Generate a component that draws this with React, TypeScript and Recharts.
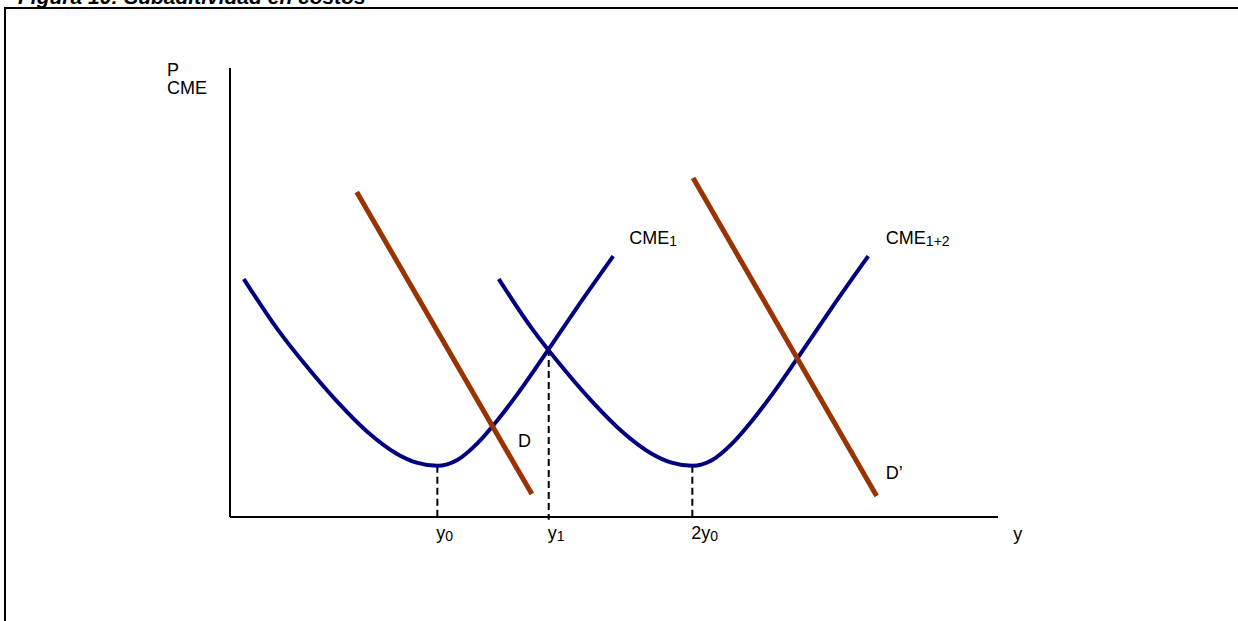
import React from 'react';
import { LineChart, Line, XAxis, YAxis, ReferenceLine, ReferenceDot } from 'recharts';

const FONT = "'Liberation Sans', Arial, sans-serif";

// average cost curve of one firm
const cme1 = [
  { x: 1.8, y: 53.0 }, { x: 6.1, y: 42.0 }, { x: 10.0, y: 33.5 }, { x: 13.9, y: 25.8 },
  { x: 17.8, y: 19.1 }, { x: 21.7, y: 14.1 }, { x: 24.3, y: 12.1 }, { x: 27.0, y: 11.4 },
  { x: 29.6, y: 12.7 }, { x: 32.2, y: 16.4 }, { x: 34.8, y: 21.5 }, { x: 37.4, y: 27.3 },
  { x: 41.5, y: 37.4 }, { x: 45.2, y: 46.7 }, { x: 49.9, y: 58.1 },
];

// average cost curve of the two plants together
const cme12 = [
  { x: 35.0, y: 53.0 }, { x: 39.3, y: 42.0 }, { x: 43.2, y: 33.5 }, { x: 47.1, y: 25.8 },
  { x: 51.0, y: 19.1 }, { x: 54.9, y: 14.1 }, { x: 57.5, y: 12.1 }, { x: 60.2, y: 11.4 },
  { x: 62.8, y: 12.7 }, { x: 65.4, y: 16.4 }, { x: 68.0, y: 21.5 }, { x: 70.6, y: 27.3 },
  { x: 74.7, y: 37.4 }, { x: 78.4, y: 46.7 }, { x: 83.1, y: 58.1 },
];

const demandD = [{ x: 16.5, y: 72.4 }, { x: 39.3, y: 5.1 }];
const demandD2 = [{ x: 60.3, y: 75.5 }, { x: 84.2, y: 4.7 }];

const tickValues = [27.0, 41.5, 60.2];
const tickLabels = [['y', '0'], ['y', '1'], ['2y', '0']];
// height of each curve where a dashed guide starts
const guideTops = [11.4, 37.4, 11.4];

const AxisTick = (props: any) => {
  const { x, y, payload } = props;
  const i = tickValues.indexOf(payload.value);
  const [main, sub] = tickLabels[i] ?? ['', ''];
  return (
    <text x={x - 1} y={y + 22} fontSize={18} fontFamily={FONT} fill="#000">
      {main}
      <tspan fontSize={14} dy={2}>{sub}</tspan>
    </text>
  );
};

const tag = (main: string, sub?: string) => (p: any) => (
  <text x={p.cx} y={p.cy} fontSize={18} fontFamily={FONT} fill="#000">
    {main}
    {sub ? <tspan fontSize={14} dy={2}>{sub}</tspan> : null}
  </text>
);

const axisTitle = (p: any) => (
  <text x={p.cx} y={p.cy} fontSize={18} fontFamily={FONT} fill="#000">
    <tspan x={p.cx}>P</tspan>
    <tspan x={p.cx} dy={18}>CME</tspan>
  </text>
);

export default function App() {
  return (
    <div style={{ position: 'absolute', left: 0, top: 0, width: 1238, height: 621, background: '#fff' }}>
      <svg width={1238} height={621} style={{ position: 'absolute', left: 0, top: 0 }}>
        <text x={18} y={4} fontSize={21} fontWeight="bold" fontStyle="italic" fontFamily={FONT} fill="#000">
          Figura 10: Subaditividad en costos
        </text>
        <line x1={5} y1={8} x2={1238} y2={8} stroke="#000" strokeWidth={2} />
        <line x1={5} y1={7} x2={5} y2={621} stroke="#000" strokeWidth={2} />
      </svg>
      <div style={{ position: 'absolute', left: 0, top: 0 }}>
        <LineChart width={1238} height={621} margin={{ top: 68, right: 240, bottom: 64, left: 220 }}>
          <XAxis
            type="number"
            dataKey="x"
            domain={[0, 100]}
            ticks={tickValues}
            tick={<AxisTick />}
            tickLine={false}
            tickSize={0}
            tickMargin={0}
            height={40}
            axisLine={{ stroke: '#000', strokeWidth: 2 }}
            allowDataOverflow
          />
          <YAxis
            type="number"
            domain={[0, 100]}
            width={10}
            tick={false}
            tickLine={false}
            axisLine={{ stroke: '#000', strokeWidth: 2 }}
            allowDataOverflow
          />
          {tickValues.map((v, i) => (
            <ReferenceLine
              key={v}
              segment={[{ x: v, y: guideTops[i] }, { x: v, y: -0.6 }]}
              stroke="#000"
              strokeWidth={2}
              strokeDasharray="7 4"
              ifOverflow="visible"
            />
          ))}
          <Line data={cme1} dataKey="y" type="monotone" stroke="#000080" strokeWidth={4} dot={false} activeDot={false} isAnimationActive={false} />
          <Line data={cme12} dataKey="y" type="monotone" stroke="#000080" strokeWidth={4} dot={false} activeDot={false} isAnimationActive={false} />
          <Line data={demandD} dataKey="y" type="linear" stroke="#993300" strokeWidth={5} dot={false} activeDot={false} isAnimationActive={false} />
          <Line data={demandD2} dataKey="y" type="linear" stroke="#993300" strokeWidth={5} dot={false} activeDot={false} isAnimationActive={false} />
          <ReferenceDot x={-8.2} y={98.3} r={1} ifOverflow="visible" shape={axisTitle} />
          <ReferenceDot x={52.0} y={60.8} r={1} ifOverflow="visible" shape={tag('CME', '1')} />
          <ReferenceDot x={85.4} y={60.8} r={1} ifOverflow="visible" shape={tag('CME', '1+2')} />
          <ReferenceDot x={37.5} y={15.6} r={1} ifOverflow="visible" shape={tag('D')} />
          <ReferenceDot x={85.4} y={8.5} r={1} ifOverflow="visible" shape={tag('D\u2019')} />
          <ReferenceDot x={102} y={-5.1} r={1} ifOverflow="visible" shape={tag('y')} />
        </LineChart>
      </div>
    </div>
  );
}
